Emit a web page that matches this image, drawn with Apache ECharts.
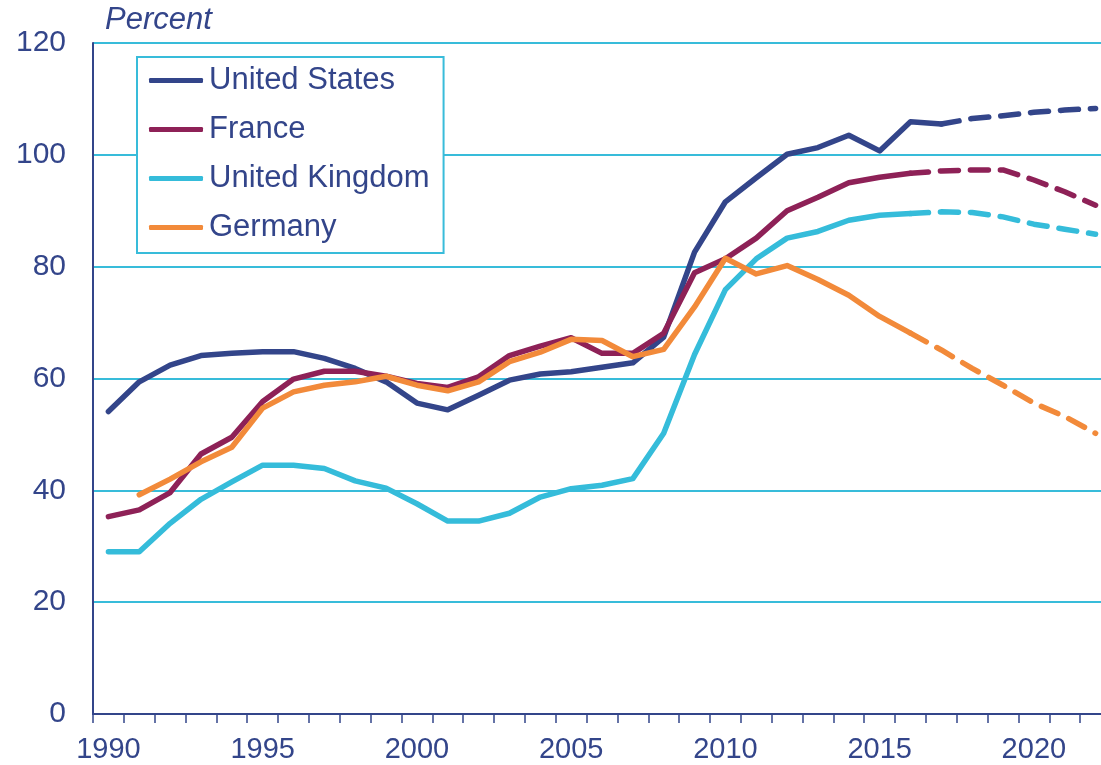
<!DOCTYPE html>
<html>
<head>
<meta charset="utf-8">
<script src="https://cdn.jsdelivr.net/npm/echarts@6/dist/echarts.min.js"></script>
<style>
  html, body { margin: 0; padding: 0; background: #fff; }
  #main { width: 1101px; height: 765px; }
</style>
</head>
<body>
<div id="main"></div>
<script>
// years on the x axis
const years = []
for (let y = 1990; y <= 2022; y++) years.push(String(y))

// debt, percent
const usData = [54.1, 59.4, 62.4, 64.1, 64.5, 64.8, 64.8, 63.6, 61.8, 59.4, 55.6, 54.4, 57.0, 59.7, 60.8, 61.2, 62.0, 62.8, 67.4, 82.6, 91.6, 95.9, 100.1, 101.3, 103.5, 100.7, 105.9, 105.5, 106.5, 107.0, 107.6, 108.0, 108.3]
const franceData = [35.3, 36.5, 39.6, 46.5, 49.5, 55.9, 59.9, 61.3, 61.3, 60.4, 59.1, 58.4, 60.3, 64.1, 65.8, 67.3, 64.5, 64.5, 68.1, 78.9, 81.4, 85.1, 90.0, 92.4, 95.0, 96.0, 96.7, 97.1, 97.3, 97.3, 95.5, 93.4, 91.0]
const ukData = [29.0, 29.0, 34.1, 38.4, 41.5, 44.5, 44.5, 43.9, 41.7, 40.4, 37.6, 34.5, 34.5, 35.9, 38.8, 40.3, 40.9, 42.1, 50.2, 64.3, 75.9, 81.4, 85.1, 86.3, 88.3, 89.2, 89.5, 89.8, 89.7, 88.9, 87.6, 86.7, 85.8]
const germanyData = [null, 39.2, 42.0, 45.1, 47.7, 54.7, 57.6, 58.8, 59.4, 60.4, 58.8, 57.8, 59.4, 63.0, 64.7, 67.0, 66.8, 63.9, 65.2, 72.8, 81.5, 78.7, 80.2, 77.7, 74.9, 71.1, 68.1, 65.1, 61.8, 58.8, 55.6, 53.2, 50.2]

// last year drawn solid, after that projection (dashed)
const usLastActual = '2017'
const otherLastActual = '2016'

const navy = '#33458a'
const cyan = '#38bcda'
const fontFamily = "'Liberation Sans', Arial, sans-serif"

const countries = [
  { name: 'United States', data: usData, last: usLastActual, color: '#33458a' },
  { name: 'France', data: franceData, last: otherLastActual, color: '#8e2157' },
  { name: 'United Kingdom', data: ukData, last: otherLastActual, color: '#35bcda' },
  { name: 'Germany', data: germanyData, last: otherLastActual, color: '#f28a3a' }
]

const series = []
countries.forEach(function (c, i) {
  const cut = years.indexOf(c.last)
  const solid = c.data.map(function (v, k) { return k <= cut ? v : null })
  const dashed = c.data.map(function (v, k) { return k >= cut ? v : null })
  series.push({
    name: c.name,
    type: 'line',
    data: solid,
    symbol: 'none',
    z: 2 + i,
    lineStyle: { color: c.color, width: 5.5, cap: 'round', join: 'round' },
    itemStyle: { color: c.color }
  })
  series.push({
    name: c.name + ' (projection)',
    type: 'line',
    data: dashed,
    symbol: 'none',
    z: 2 + i,
    lineStyle: { color: c.color, width: 5.5, type: [18, 12], cap: 'round', join: 'round' },
    itemStyle: { color: c.color }
  })
})

const chart = echarts.init(document.getElementById('main'))
chart.setOption({
  animation: false,
  backgroundColor: '#fff',
  textStyle: { fontFamily: fontFamily },
  title: {
    text: 'Percent',
    left: 105,
    top: 5,
    padding: 0,
    textStyle: { fontFamily: fontFamily, fontStyle: 'italic', fontWeight: 'normal', fontSize: 31, color: navy }
  },
  legend: {
    data: countries.map(function (c) { return c.name }),
    orient: 'vertical',
    left: 137,
    top: 57,
    padding: [8, 14, 10, 12],
    itemGap: 18,
    itemWidth: 54,
    itemHeight: 5,
    icon: 'roundRect',
    backgroundColor: '#fff',
    borderColor: cyan,
    borderWidth: 2,
    borderRadius: 0,
    textStyle: { fontFamily: fontFamily, fontSize: 31, color: navy, lineHeight: 31, padding: [0, 0, 0, 1] }
  },
  // plot runs a bit past the right edge of the canvas, as in the source
  grid: { left: 93, top: 43, bottom: 51, right: -10, outerBoundsMode: 'none' },
  xAxis: {
    type: 'category',
    data: years,
    boundaryGap: true,
    axisLine: { lineStyle: { color: navy, width: 2 } },
    axisTick: { show: true, interval: 0, length: 9, lineStyle: { color: navy, width: 1.5 } },
    axisLabel: { interval: 4, fontSize: 29, color: navy, margin: 21, fontFamily: fontFamily },
    splitLine: { show: false }
  },
  yAxis: {
    type: 'value',
    min: 0,
    max: 120,
    interval: 20,
    axisLine: { show: true, lineStyle: { color: navy, width: 2 } },
    axisTick: { show: false },
    axisLabel: { fontSize: 30, color: navy, margin: 27, fontFamily: fontFamily },
    splitLine: { lineStyle: { color: cyan, width: 2 } }
  },
  series: series
})
</script>
</body>
</html>
